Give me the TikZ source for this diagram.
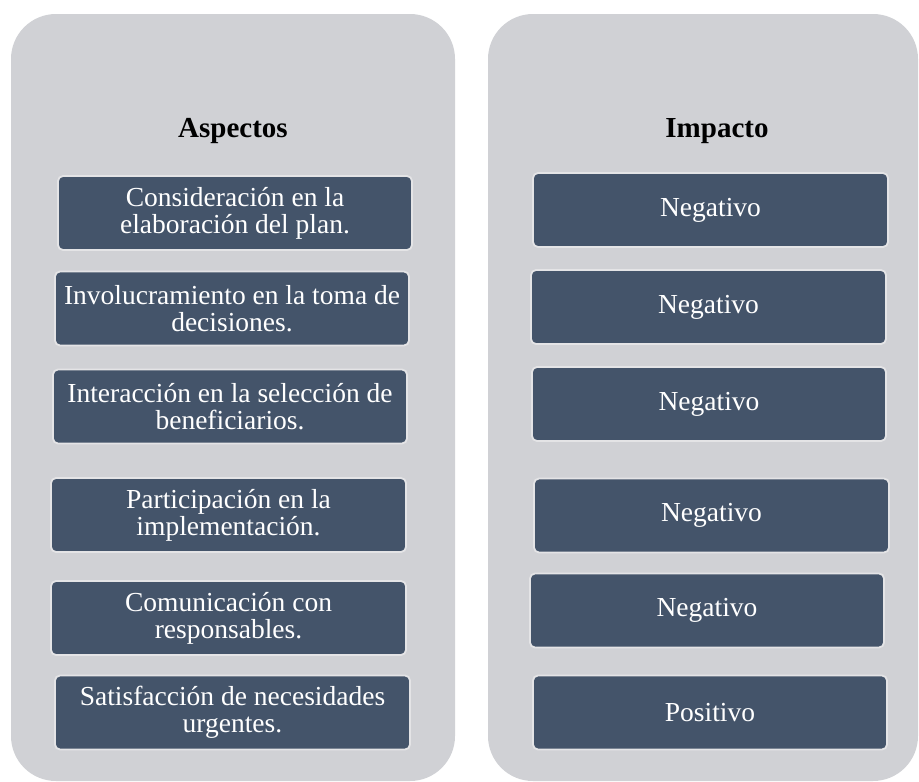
\documentclass[tikz,border=0pt]{standalone}
\usepackage{fontspec}
\setmainfont{Liberation Serif}
\definecolor{panelgray}{HTML}{D0D1D5}
\definecolor{boxblue}{HTML}{44546A}
\definecolor{boxedge}{HTML}{E4E4E6}
\tikzset{
  panel/.style={fill=panelgray, draw=none, rounded corners=45pt},
  titletext/.style={font=\fontsize{29}{32}\selectfont\bfseries, text=black, inner sep=0pt},
  itembox/.style={fill=boxblue, draw=boxedge, line width=1.8pt, rounded corners=5pt,
    text=white, align=center, inner sep=2pt,
    font=\fontsize{27.5}{27}\selectfont, minimum height=74pt}
}
\begin{document}
\begin{tikzpicture}[x=1pt,y=-1pt]
\useasboundingbox (0,0) rectangle (919,782);
\fill[white] (0,0) rectangle (919,782);
\path[panel] (11,14) rectangle (455,781);
\path[panel] (488,14) rectangle (918,781);

\node[titletext] (tA) at (233,131) {Aspectos};
\node[titletext] (tI) at (717,131) {Impacto};

\node[itembox, minimum width=354pt] (a1) at (235,213) {Consideración en la\\elaboración del plan.};
\node[itembox, minimum width=354pt] (a2) at (232,308.5) {Involucramiento en la toma de\\decisiones.};
\node[itembox, minimum width=354pt] (a3) at (230,406.5) {Interacción en la selección de\\beneficiarios.};
\node[itembox, minimum width=355pt] (a4) at (228.5,515) {Participación en la\\implementación.};
\node[itembox, minimum width=355pt] (a5) at (228.5,618) {Comunicación con\\responsables.};
\node[itembox, minimum width=355pt] (a6) at (232.5,712.5) {Satisfacción de necesidades\\urgentes.};

\node[itembox, minimum width=355pt] (b1) at (710.5,210) {Negativo};
\node[itembox, minimum width=355pt] (b2) at (708.5,307) {Negativo};
\node[itembox, minimum width=354pt] (b3) at (709,404) {Negativo};
\node[itembox, minimum width=355pt] (b4) at (711.5,515.5) {Negativo};
\node[itembox, minimum width=354pt] (b5) at (707,610.5) {Negativo};
\node[itembox, minimum width=354pt] (b6) at (710,712.5) {Positivo};
\end{tikzpicture}
\end{document}
